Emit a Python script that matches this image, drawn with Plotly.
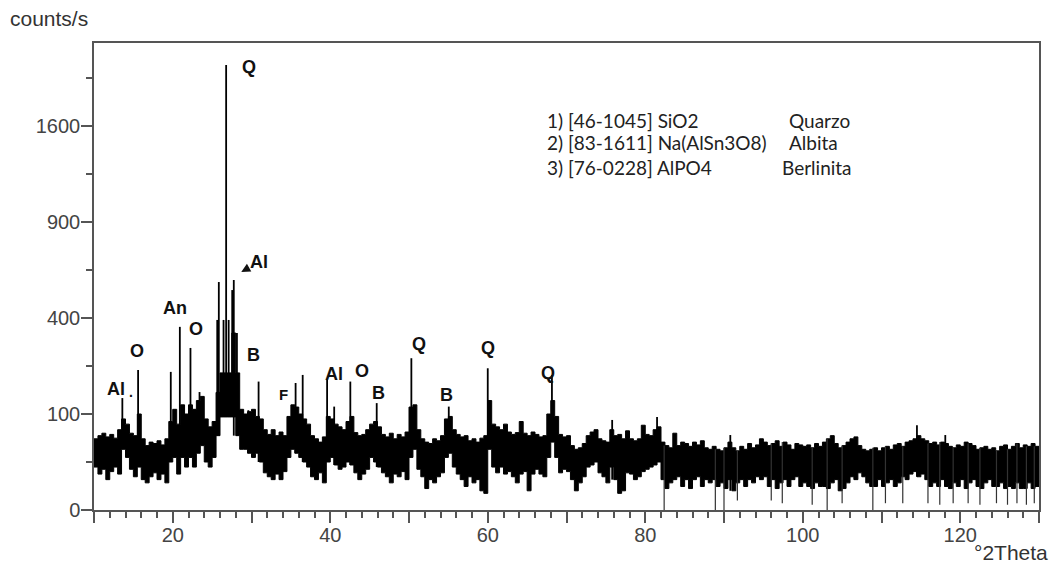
import numpy as np
import plotly.graph_objects as go

# ---------------- data ----------------
# background band: one low / high reading per 0.5 deg bin, 2theta = 10.0 ... 130.0
band_theta_start = 10.0
band_theta_step = 0.5
band_low = [
    20, 14, 18, 10, 16, 20, 14, 40, 30, 18,      # 10.0-14.5
    12, 20, 10, 8, 12, 15, 10, 14, 8, 25,        # 15.0-19.5
    30, 14, 30, 20, 30, 20, 35, 45, 25, 20,      # 20.0-24.5
    30, 60, 94, 94, 94, 94, 60, 40, 40, 35,      # 25.0-29.5
    30, 35, 25, 15, 12, 10, 14, 10, 16, 30,      # 30.0-34.5
    40, 35, 30, 25, 20, 12, 10, 15, 8, 25,       # 35.0-39.5
    30, 22, 18, 20, 25, 22, 15, 10, 14, 18,      # 40.0-44.5
    30, 25, 20, 15, 12, 8, 14, 12, 16, 10,       # 45.0-49.5
    30, 40, 18, 12, 5, 10, 8, 12, 15, 30,        # 50.0-54.5
    35, 20, 14, 10, 6, 12, 8, 10, 4, 3,          # 55.0-59.5
    40, 20, 15, 20, 14, 16, 12, 8, 14, 16,       # 60.0-64.5
    4, 14, 18, 14, 12, 30, 50, 30, 15, 18,       # 65.0-69.5
    16, 10, 4, 8, 12, 20, 22, 25, 15, 12,        # 70.0-74.5
    8, 20, 10, 3, 4, 15, 14, 10, 12, 16,         # 75.0-79.5
    18, 20, 22, 25, 10, 5, 8, 10, 12, 6,         # 80.0-84.5
    10, 5, 10, 12, 6, 10, 8, 10, 6, 8,           # 85.0-89.5
    5, 10, 4, 8, 10, 6, 10, 8, 12, 10,           # 90.0-94.5
    12, 6, 10, 5, 8, 10, 6, 10, 12, 6,           # 95.0-99.5
    8, 6, 5, 8, 6, 6, 5, 8, 10, 4,               # 100.0-104.5
    5, 8, 12, 10, 15, 12, 8, 6, 6, 10,           # 105.0-109.5
    6, 8, 10, 6, 8, 12, 10, 14, 16, 12,          # 110.0-114.5
    14, 10, 6, 8, 6, 10, 6, 5, 8, 6,             # 115.0-119.5
    10, 5, 8, 10, 6, 5, 8, 10, 6, 6,             # 120.0-124.5
    8, 5, 6, 5, 8, 5, 5, 8, 5, 6,                # 125.0-129.5
    8,                                           # 130.0
]
band_high = [
    55, 60, 64, 58, 62, 56, 70, 90, 80, 64,
    60, 100, 55, 45, 50, 48, 52, 46, 55, 85,
    110, 80, 120, 100, 120, 110, 130, 140, 90, 75,
    85, 150, 204, 204, 204, 340, 204, 110, 100, 105,
    110, 95, 90, 70, 62, 70, 60, 66, 60, 95,
    120, 115, 100, 90, 80, 60, 55, 50, 58, 95,
    90, 80, 75, 70, 85, 95, 65, 60, 62, 70,
    80, 85, 75, 62, 58, 64, 55, 62, 58, 66,
    115, 120, 70, 55, 50, 48, 55, 52, 60, 90,
    95, 70, 62, 58, 60, 52, 55, 50, 56, 60,
    130, 80, 75, 70, 80, 66, 62, 65, 85, 64,
    60, 66, 62, 58, 60, 100, 130, 95, 62, 58,
    60, 45, 40, 42, 48, 60, 66, 70, 55, 52,
    50, 70, 60, 62, 55, 68, 55, 52, 55, 78,
    62, 60, 70, 75, 50, 45, 42, 64, 45, 50,
    48, 44, 50, 46, 52, 42, 40, 44, 40, 38,
    42, 50, 42, 38, 44, 40, 48, 42, 46, 55,
    50, 45, 48, 52, 44, 50, 46, 40, 48, 46,
    44, 46, 42, 48, 44, 50, 55, 60, 48, 42,
    45, 50, 55, 58, 45, 40, 38, 40, 42, 38,
    42, 44, 40, 46, 48, 44, 50, 52, 55, 60,
    55, 52, 48, 50, 46, 50, 48, 44, 42, 46,
    44, 50, 48, 45, 40, 42, 44, 40, 42, 38,
    44, 46, 40, 44, 48, 42, 46, 44, 48, 44,
    40,
]

# individual reflections / spikes above the band
spike_theta = [13.6, 15.6, 19.75, 20.9, 22.25, 23.4, 25.65, 25.85, 26.45, 26.78,
               27.1, 27.55, 27.75, 28.15, 29.6, 30.9, 35.6, 36.5, 39.6, 40.5,
               42.55, 45.9, 50.3, 55.05, 60.0, 68.15, 75.8, 81.5, 90.8, 103.8,
               106.6, 114.5, 118.1]
spike_counts = [136, 213, 207, 364, 285, 151, 392, 564, 392, 2149,
                392, 525, 574, 340, 108, 179, 175, 198, 185, 116,
                179, 124, 250, 116, 218, 198, 88, 94, 61, 53,
                53, 78, 61]

# single readings dropping to (almost) zero
dip_theta = [82.4, 88.9, 90.0, 91.7, 96.0, 97.4, 101.2, 103.1, 105.0, 108.9,
             110.5, 112.7, 115.9, 117.4, 119.1, 121.0, 122.5, 124.6, 126.0, 127.2,
             128.4, 129.4]
dip_counts = [0, 0, 0, 1, 1, 0.5, 0.3, 0, 0.5, 0,
              0.5, 0.5, 0.5, 0.3, 0.5, 0.5, 0.3, 0.5, 0.3, 0.5,
              0.3, 0.5]

# phase labels on the pattern
label_text = ["Al", ".", "O", "An", "O", "Q", "B", "F", "Al", "O", "B", "Q", "B", "Q", "Q"]
label_theta = [12.73, 14.7, 15.5, 20.34, 23.0, 29.73, 30.24, 34.0, 40.5, 44.0, 46.07, 51.3, 54.8, 60.06, 67.7]
label_counts = [159, 150, 275, 443, 355, 2128, 261, 144, 201, 210, 149, 299, 144, 286, 204]
label_size = [18, 14, 18, 18, 18, 18, 18, 15, 18, 18, 18, 18, 18, 18, 18]

# arrowed label
arrow_label = "Al"
arrow_tip_theta = 28.7
arrow_tip_counts = 615

# phase table
phase_lines = ["1) [46-1045] SiO2", "2) [83-1611] Na(AlSn3O8)", "3) [76-0228] AlPO4"]
phase_names = ["Quarzo", "Albita", "Berlinita"]

y_tick_counts = [0, 100, 400, 900, 1600]
y_minor_counts = [25, 225, 625, 1225, 2025]
x_major = list(range(10, 131, 10))
x_labels = [str(v) if v % 20 == 0 and 10 < v < 130 else "" for v in x_major]
x_minor = [v for v in range(12, 130, 2) if v % 10 != 0]

# ---------------- build traces ----------------
theta_band = band_theta_start + band_theta_step * np.arange(len(band_low))
sq_low = np.sqrt(np.array(band_low, dtype=float))      # square-root intensity scale
sq_high = np.sqrt(np.array(band_high, dtype=float))


def bin_index(t):
    return int(min(len(band_low) - 1, max(0, round((t - band_theta_start) / band_theta_step))))


sx, sy = [], []
for t, c in zip(spike_theta, spike_counts):
    i = bin_index(t)
    sx += [t, t, None]
    sy += [float(sq_low[i]), float(np.sqrt(c)), None]
dx, dy = [], []
for t, c in zip(dip_theta, dip_counts):
    i = bin_index(t)
    dx += [t, t, None]
    dy += [float(sq_high[i]), float(np.sqrt(c)), None]

fig = go.Figure()
fig.add_trace(go.Scatter(x=theta_band, y=sq_low, mode="lines", line=dict(color="#000", width=1, shape="hv"),
                         hoverinfo="skip"))
fig.add_trace(go.Scatter(x=theta_band, y=sq_high, mode="lines", line=dict(color="#000", width=1, shape="hv"),
                         fill="tonexty", fillcolor="#000", hoverinfo="skip"))
fig.add_trace(go.Scatter(x=sx, y=sy, mode="lines", line=dict(color="#000", width=1.8),
                         hoverinfo="skip"))
fig.add_trace(go.Scatter(x=dx, y=dy, mode="lines", line=dict(color="#333", width=1.2),
                         hoverinfo="skip"))

axis_col = "#555555"
tick_font = dict(family="Liberation Sans, Arial, sans-serif", size=20, color="#444444")

fig.update_xaxes(range=[10, 130], tickmode="array", tickvals=x_major, ticktext=x_labels,
                 ticks="outside", ticklen=11, tickwidth=1.5, tickcolor=axis_col,
                 showline=True, linecolor=axis_col, linewidth=1.5, mirror=True,
                 showgrid=False, zeroline=False, tickfont=tick_font, ticklabelstandoff=-5,
                 minor=dict(tickmode="array", tickvals=x_minor, ticks="outside",
                            ticklen=6, tickwidth=1.5, tickcolor=axis_col, showgrid=False))
fig.update_yaxes(range=[0, 48.65], tickmode="array",
                 tickvals=list(np.sqrt(y_tick_counts)), ticktext=[str(v) for v in y_tick_counts],
                 ticks="outside", ticklen=11, tickwidth=1.5, tickcolor=axis_col,
                 showline=True, linecolor=axis_col, linewidth=1.5, mirror=True,
                 showgrid=False, zeroline=False, tickfont=tick_font, ticklabelstandoff=-3,
                 minor=dict(tickmode="array", tickvals=list(np.sqrt(y_minor_counts)), ticks="outside",
                            ticklen=6, tickwidth=1.5, tickcolor=axis_col, showgrid=False))

annos = []
for txt, t, c, s in zip(label_text, label_theta, label_counts, label_size):
    annos.append(dict(x=t, y=float(np.sqrt(c)), xref="x", yref="y", text=f"<b>{txt}</b>",
                      showarrow=False, xanchor="center", yanchor="middle",
                      font=dict(family="Liberation Sans, Arial, sans-serif", size=s, color="#111111")))
annos.append(dict(x=arrow_tip_theta, y=float(np.sqrt(arrow_tip_counts)), xref="x", yref="y",
                  text=f"<b>{arrow_label}</b>", showarrow=True, ax=18, ay=-10,
                  arrowhead=2, arrowsize=1.2, arrowwidth=1.5, arrowcolor="#111111", standoff=0,
                  font=dict(family="Liberation Sans, Arial, sans-serif", size=18, color="#111111")))

table_font = dict(family="Lato, Open Sans, sans-serif", size=19, color="#222222")
table_y = [0.835, 0.786, 0.734]
name_x = [0.733, 0.733, 0.726]
for line, name, yy, nx in zip(phase_lines, phase_names, table_y, name_x):
    annos.append(dict(x=0.477, y=yy, xref="paper", yref="paper", text=line, showarrow=False,
                      xanchor="left", yanchor="middle", font=table_font))
    annos.append(dict(x=nx, y=yy, xref="paper", yref="paper", text=name, showarrow=False,
                      xanchor="left", yanchor="middle", font=table_font))

annos.append(dict(x=-0.091, y=1.0535, xref="paper", yref="paper", text="counts/s", showarrow=False,
                  xanchor="left", yanchor="middle",
                  font=dict(family="Liberation Sans, Arial, sans-serif", size=21, color="#333333")))
annos.append(dict(x=1.0115, y=-0.092, xref="paper", yref="paper", text="°2Theta", showarrow=False,
                  xanchor="right", yanchor="middle",
                  font=dict(family="Liberation Sans, Arial, sans-serif", size=21, color="#333333")))

fig.update_layout(width=1052, height=569, margin=dict(l=94, r=13, t=43, b=59),
                  plot_bgcolor="white", paper_bgcolor="white", showlegend=False,
                  annotations=annos)

fig.write_html("out.html", config={"displayModeBar": False},
               post_script="document.body.style.margin='0px';")
